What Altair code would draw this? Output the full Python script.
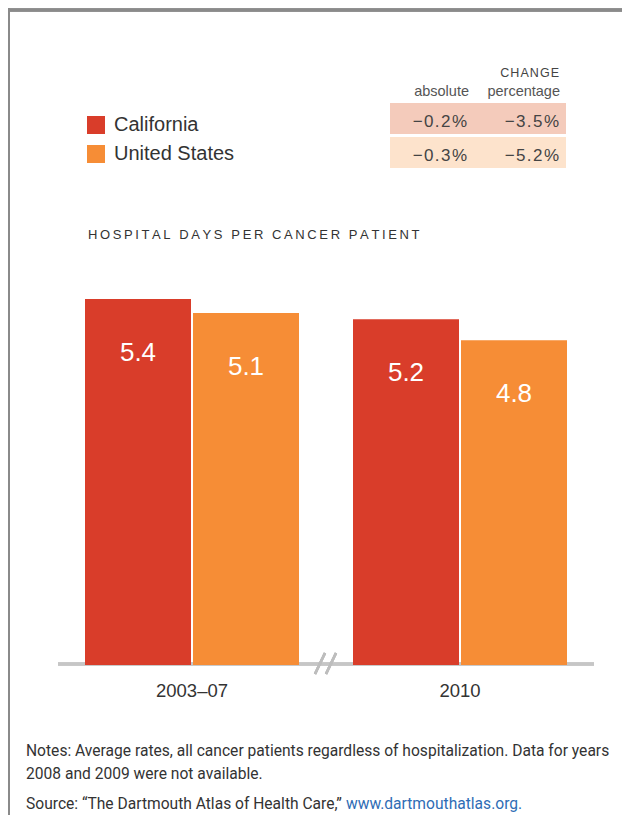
import altair as alt
import pandas as pd

# ---- data ----
periods = ["2003–07", "2003–07", "2010", "2010"]
states = ["California", "United States", "California", "United States"]
values = [5.40, 5.19, 5.10, 4.79]          # bar heights
value_labels = ["5.4", "5.1", "5.2", "4.8"]  # printed labels

legend_states = ["California", "United States"]
colors = ["#d93d2a", "#f68d36"]
abs_change = ["−0.2%", "−0.3%"]
pct_change = ["−3.5%", "−5.2%"]
row_colors = ["#f4cbbb", "#fde3cc"]

title_text = "HOSPITAL DAYS PER CANCER PATIENT"
notes_lines = [
    "Notes: Average rates, all cancer patients regardless of hospitalization. Data for years",
    "2008 and 2009 were not available.",
]
source_text = "Source: “The Dartmouth Atlas of Health Care,”"
source_link = "www.dartmouthatlas.org."

FONT = "Liberation Sans"
NARROW = "Roboto, sans-serif"
TXT = "#333333"


def spaced(s, sep="\u2009"):
    return sep.join(s)


bars_df = pd.DataFrame({"period": periods, "state": states, "value": values, "label": value_labels})
table_df = pd.DataFrame({
    "state": legend_states,
    "abs": [spaced(v, "\u200a") for v in abs_change],
    "pct": [spaced(v, "\u200a") for v in pct_change],
    "bg": row_colors,
})

W, H = 614, 807
xscale = alt.Scale(range=[77, 559], paddingInner=54 / 268, paddingOuter=0)
xoff_scale = alt.Scale(paddingInner=2 / 108, paddingOuter=0)
yscale = alt.Scale(domain=[0, 657 / 67.8], range=[657, 0])

base = alt.Chart(bars_df)

axis_line = base.mark_rule(color="#c6c6c6", strokeWidth=3).encode(
    x=alt.value(50), x2=alt.value(586), y=alt.value(656)
)

bars = base.mark_bar().encode(
    x=alt.X("period:N", scale=xscale, axis=None, sort=None),
    xOffset=alt.XOffset("state:N", scale=xoff_scale, sort=legend_states),
    y=alt.Y("value:Q", scale=yscale, axis=None),
    color=alt.Color(
        "state:N",
        scale=alt.Scale(domain=legend_states, range=colors),
        legend=alt.Legend(
            orient="none", legendX=78, legendY=107, title=None,
            symbolType="square", symbolSize=324, symbolStrokeWidth=0,
            labelFontSize=20, labelFont=FONT, labelColor=TXT,
            labelOffset=8, rowPadding=9, padding=0,
        ),
    ),
)

bar_text = base.mark_text(
    color="white", fontSize=26, font=FONT, baseline="alphabetic", dy=62
).encode(
    x=alt.X("period:N", scale=xscale, axis=None, sort=None),
    xOffset=alt.XOffset("state:N", scale=xoff_scale, sort=legend_states),
    y=alt.Y("value:Q", scale=yscale, axis=None),
    text="label:N",
)

period_text = base.transform_aggregate(
    n="count()", groupby=["period"]
).mark_text(
    color=TXT, fontSize=18.5, font=FONT, baseline="alphabetic"
).encode(
    x=alt.X("period:N", scale=xscale, axis=None, sort=None),
    y=alt.value(689),
    text="period:N",
)

slashes = [
    alt.Chart(bars_df).mark_rule(color="#bdbdbd", strokeWidth=2.5).encode(
        x=alt.value(x0), y=alt.value(666), x2=alt.value(x0 + 10), y2=alt.value(645)
    )
    for x0 in (307, 318)
]

# border (top + left)
border_top = base.mark_rule(color="#8a8a8a", strokeWidth=3).encode(
    x=alt.value(0), x2=alt.value(W), y=alt.value(2)
)
border_left = base.mark_rule(color="#8a8a8a", strokeWidth=3).encode(
    x=alt.value(0.5), y=alt.value(0), y2=alt.value(H)
)


def label(text, x, y, size, color=TXT, align="left", font=FONT, weight="normal"):
    return alt.Chart(pd.DataFrame({"t": [text]})).mark_text(
        align=align, baseline="alphabetic", fontSize=size, font=font, color=color,
        fontWeight=weight,
    ).encode(x=alt.value(x), y=alt.value(y), text="t:N")


header = [
    label(spaced("CHANGE", "\u200a"), 551, 69, 12.5, color="#444444", align="right"),
    label("absolute", 461, 88, 14.5, color="#555555", align="right"),
    label("percentage", 552, 88, 14.5, color="#555555", align="right"),
]

row_tops = [95, 129]
table_layers = []
for i, st in enumerate(legend_states):
    t = alt.Chart(table_df).transform_filter(alt.datum.state == st)
    top = row_tops[i]
    table_layers.append(
        t.mark_rect().encode(
            x=alt.value(382), x2=alt.value(558), y=alt.value(top), y2=alt.value(top + 31),
            fill=alt.Fill("bg:N", scale=None),
        )
    )
    table_layers.append(
        t.mark_text(align="right", baseline="alphabetic", fontSize=17, font=FONT,
                    color="#444444").encode(
            x=alt.value(459), y=alt.value(top + 24), text="abs:N")
    )
    table_layers.append(
        t.mark_text(align="right", baseline="alphabetic", fontSize=17, font=FONT,
                    color="#444444").encode(
            x=alt.value(551), y=alt.value(top + 24), text="pct:N")
    )

title = label(spaced(title_text), 80, 231, 13)

NS = 15.6
notes = [
    label(notes_lines[0], 18, 748, NS, font=NARROW),
    label(notes_lines[1], 18, 771, NS, font=NARROW),
    label(source_text, 18, 801, NS, font=NARROW),
    label(source_link, 338, 801, NS, font=NARROW, color="#2f6db5"),
]

chart = alt.layer(
    border_top, border_left, axis_line, bars, bar_text, period_text, *slashes,
    *header, *table_layers, title, *notes,
).properties(
    width=W, height=H, padding=0, autosize=alt.AutoSizeParams(type="none")
).configure_view(strokeWidth=0)

chart.save("out.html", embed_options={"renderer": "svg", "actions": False})
